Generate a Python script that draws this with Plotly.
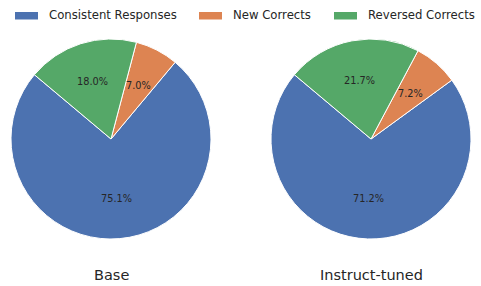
import math
import plotly.graph_objects as go

categories = ["Consistent Responses", "New Corrects", "Reversed Corrects"]
base_values = [75.1, 7.0, 18.0]
instruct_values = [71.2, 7.2, 21.7]
panel_titles = ["Base", "Instruct-tuned"]
colors = ["#4C72B0", "#DD8452", "#55A868"]

W, H = 481, 286
START_ANGLE = 140  # matplotlib-style start angle (deg, CCW from +x)
TEXT = "#262626"
FONT = "DejaVu Sans"

# pie geometry in pixels: (cx, cy, r)
pies = [(111, 139, 100), (371, 139, 100)]

fig = go.Figure()
annotations = []
shapes = []

for (cx, cy, r), vals, title in zip(pies, [base_values, instruct_values], panel_titles):
    total = sum(vals)
    # plotly (counterclockwise): rotation marks where the first slice ends
    end_first = START_ANGLE + 360.0 * vals[0] / total
    rot = 90 - end_first
    rot = ((rot + 180) % 360) - 180
    fig.add_trace(go.Pie(
        labels=categories,
        values=vals,
        sort=False,
        direction="counterclockwise",
        rotation=rot,
        marker=dict(colors=colors, line=dict(color="white", width=1)),
        textinfo="none",
        hoverinfo="label+percent",
        showlegend=False,
        domain=dict(x=[(cx - r) / W, (cx + r) / W],
                    y=[1 - (cy + r) / H, 1 - (cy - r) / H]),
    ))
    cum = 0.0
    for v in vals:
        mid = math.radians(START_ANGLE + 360.0 * (cum + v / 2) / total)
        cum += v
        px = cx + 0.6 * r * math.cos(mid)
        py = cy - 0.6 * r * math.sin(mid)
        annotations.append(dict(
            x=px / W, y=1 - py / H, xref="paper", yref="paper",
            text=f"{v:.1f}%", showarrow=False,
            font=dict(family=FONT, size=9.75, color=TEXT),
            xanchor="center", yanchor="middle"))
    annotations.append(dict(
        x=cx / W, y=1 - 275 / H, xref="paper", yref="paper",
        text=title, showarrow=False,
        font=dict(family=FONT, size=14.5, color=TEXT),
        xanchor="center", yanchor="middle"))

# custom legend
legend_x = [15, 199, 334]
for lx, cat, col in zip(legend_x, categories, colors):
    shapes.append(dict(type="rect", xref="paper", yref="paper",
                       x0=lx / W, x1=(lx + 23) / W,
                       y0=1 - 19.5 / H, y1=1 - 12 / H,
                       fillcolor=col, line=dict(width=0)))
    annotations.append(dict(
        x=(lx + 32) / W, y=1 - 15.5 / H, xref="paper", yref="paper",
        text=cat, showarrow=False, xanchor="left", yanchor="middle",
        font=dict(family=FONT, size=11.7, color=TEXT)))

fig.update_layout(
    width=W, height=H,
    margin=dict(l=0, r=0, t=0, b=0),
    paper_bgcolor="white", plot_bgcolor="white",
    annotations=annotations, shapes=shapes,
    showlegend=False,
)

fig.write_html(
    "out.html",
    config={"displayModeBar": False},
    post_script="document.body.style.margin='0';document.body.style.padding='0';",
)
